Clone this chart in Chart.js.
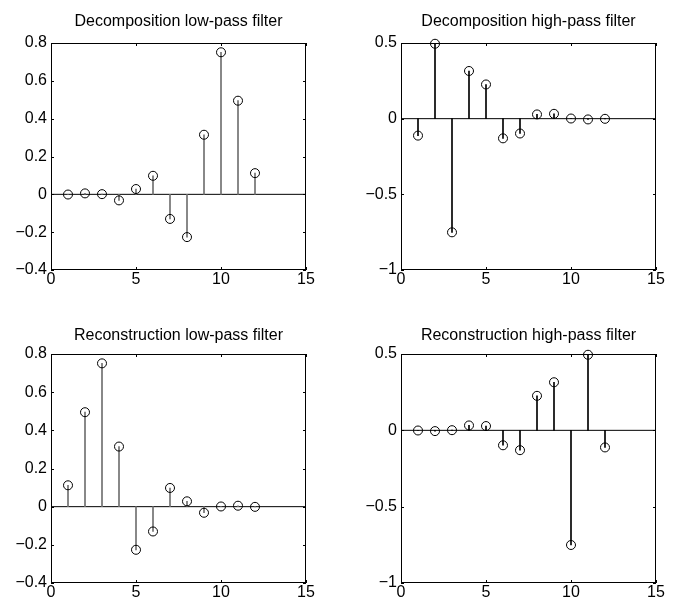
<!DOCTYPE html>
<html lang="en">
<head>
<meta charset="UTF-8" />
<title>Wavelet filters</title>
<script src="https://cdn.jsdelivr.net/npm/chart.js"></script>
<style>
  body { margin: 0; background: #fff; }
  .panel { position: absolute; }
</style>
</head>
<body>
<div class="panel" style="left:0;top:0;width:326px;height:290px"><canvas id="decLowChart"></canvas></div>
<div class="panel" style="left:350px;top:0;width:326px;height:290px"><canvas id="decHighChart"></canvas></div>
<div class="panel" style="left:0;top:311px;width:326px;height:292px"><canvas id="recLowChart"></canvas></div>
<div class="panel" style="left:350px;top:311px;width:326px;height:292px"><canvas id="recHighChart"></canvas></div>

<script>
    const taps = [1, 2, 3, 4, 5, 6, 7, 8, 9, 10, 11, 12];
    const decLow = [-0.001, 0.005, 0.001, -0.032, 0.028, 0.098, -0.130, -0.226, 0.315, 0.751, 0.495, 0.112];
    const decHigh = [-0.112, 0.495, -0.751, 0.315, 0.226, -0.130, -0.098, 0.028, 0.032, 0.001, -0.005, -0.001];
    const recLow = [0.112, 0.495, 0.751, 0.315, -0.226, -0.130, 0.098, 0.028, -0.032, 0.001, 0.005, -0.001];
    const recHigh = [-0.001, -0.005, 0.001, 0.032, 0.028, -0.098, -0.130, 0.226, 0.315, -0.751, 0.495, -0.112];

    const xTicks = [0, 5, 10, 15];
    const lowTicks = [-0.4, -0.2, 0, 0.2, 0.4, 0.6, 0.8];
    const highTicks = [-1, -0.5, 0, 0.5];

    const FONT = 'Liberation Sans, Arial, Helvetica, sans-serif';

    function fmt(v) {
        return String(v).replace('-', '\u2212');
    }

    // MATLAB style box with small inward ticks on all four sides
    const boxPlugin = {
        id: 'box',
        afterDraw(chart) {
            const { ctx, chartArea: a, scales: { x, y } } = chart;
            ctx.save();
            ctx.strokeStyle = '#000';
            ctx.lineWidth = 1;
            ctx.strokeRect(a.left + 0.5, a.top + 0.5, a.width - 1, a.height - 1);
            ctx.beginPath();
            x.ticks.forEach(t => {
                const px = Math.round(x.getPixelForValue(t.value)) + 0.5;
                ctx.moveTo(px, a.bottom); ctx.lineTo(px, a.bottom - 3);
                ctx.moveTo(px, a.top); ctx.lineTo(px, a.top + 3);
            });
            y.ticks.forEach(t => {
                const py = Math.round(y.getPixelForValue(t.value)) + 0.5;
                ctx.moveTo(a.left, py); ctx.lineTo(a.left + 3, py);
                ctx.moveTo(a.right, py); ctx.lineTo(a.right - 3, py);
            });
            ctx.stroke();
            ctx.restore();
        }
    };

    function makePanel(id, title, values, yTicks, stemColor, titleTop, titleBottom) {
        const ctx = document.getElementById(id).getContext('2d');
        return new Chart(ctx, {
            data: {
                datasets: [
                    {
                        type: 'scatter',
                        data: taps.map((t, i) => ({ x: t, y: values[i] })),
                        pointStyle: 'circle',
                        pointRadius: 4.5,
                        borderColor: '#000',
                        backgroundColor: 'rgba(0,0,0,0)',
                        borderWidth: 1,
                        clip: false,
                        order: 0,
                    },
                    {
                        type: 'bar',
                        data: taps.map((t, i) => ({ x: t, y: [0, values[i]] })),
                        backgroundColor: stemColor,
                        barThickness: 1,
                        order: 1,
                    },
                    {
                        type: 'line',
                        data: [{ x: xTicks[0], y: 0 }, { x: xTicks[xTicks.length - 1], y: 0 }],
                        borderColor: '#000',
                        borderWidth: 1,
                        pointRadius: 0,
                        order: 2,
                    },
                ],
            },
            options: {
                responsive: true,
                maintainAspectRatio: false,
                animation: false,
                layout: { padding: { left: 0, right: 20, top: 0, bottom: 0 } },
                plugins: {
                    legend: { display: false },
                    tooltip: { enabled: false },
                    title: {
                        display: true,
                        fullSize: false,
                        text: title,
                        color: '#000',
                        font: { family: FONT, size: 16, weight: 'normal', lineHeight: 1 },
                        padding: { top: titleTop, bottom: titleBottom },
                    },
                },
                scales: {
                    x: {
                        type: 'linear',
                        min: xTicks[0],
                        max: xTicks[xTicks.length - 1],
                        offset: false,
                        grid: { display: false, drawTicks: false, offset: false },
                        border: { display: false },
                        ticks: {
                            color: '#000',
                            padding: 0,
                            font: { family: FONT, size: 16 },
                            maxRotation: 0,
                            callback: v => fmt(v),
                        },
                        afterBuildTicks: s => { s.ticks = xTicks.map(v => ({ value: v })); },
                        afterFit: s => { s.height = 20; },
                    },
                    y: {
                        type: 'linear',
                        min: yTicks[0],
                        max: yTicks[yTicks.length - 1],
                        grid: { display: false, drawTicks: false },
                        border: { display: false },
                        ticks: {
                            color: '#000',
                            padding: 4,
                            font: { family: FONT, size: 16 },
                            callback: v => fmt(v),
                        },
                        afterBuildTicks: s => { s.ticks = yTicks.map(v => ({ value: v })); },
                        afterFit: s => { s.width = 51; },
                    },
                },
            },
            plugins: [boxPlugin],
        });
    }

    makePanel('decLowChart', 'Decomposition low-pass filter', decLow, lowTicks, '#707070', 14, 13);
    makePanel('decHighChart', 'Decomposition high-pass filter', decHigh, highTicks, '#000', 14, 13);
    makePanel('recLowChart', 'Reconstruction low-pass filter', recLow, lowTicks, '#707070', 17, 10);
    makePanel('recHighChart', 'Reconstruction high-pass filter', recHigh, highTicks, '#000', 17, 10);
</script>
</body>
</html>
